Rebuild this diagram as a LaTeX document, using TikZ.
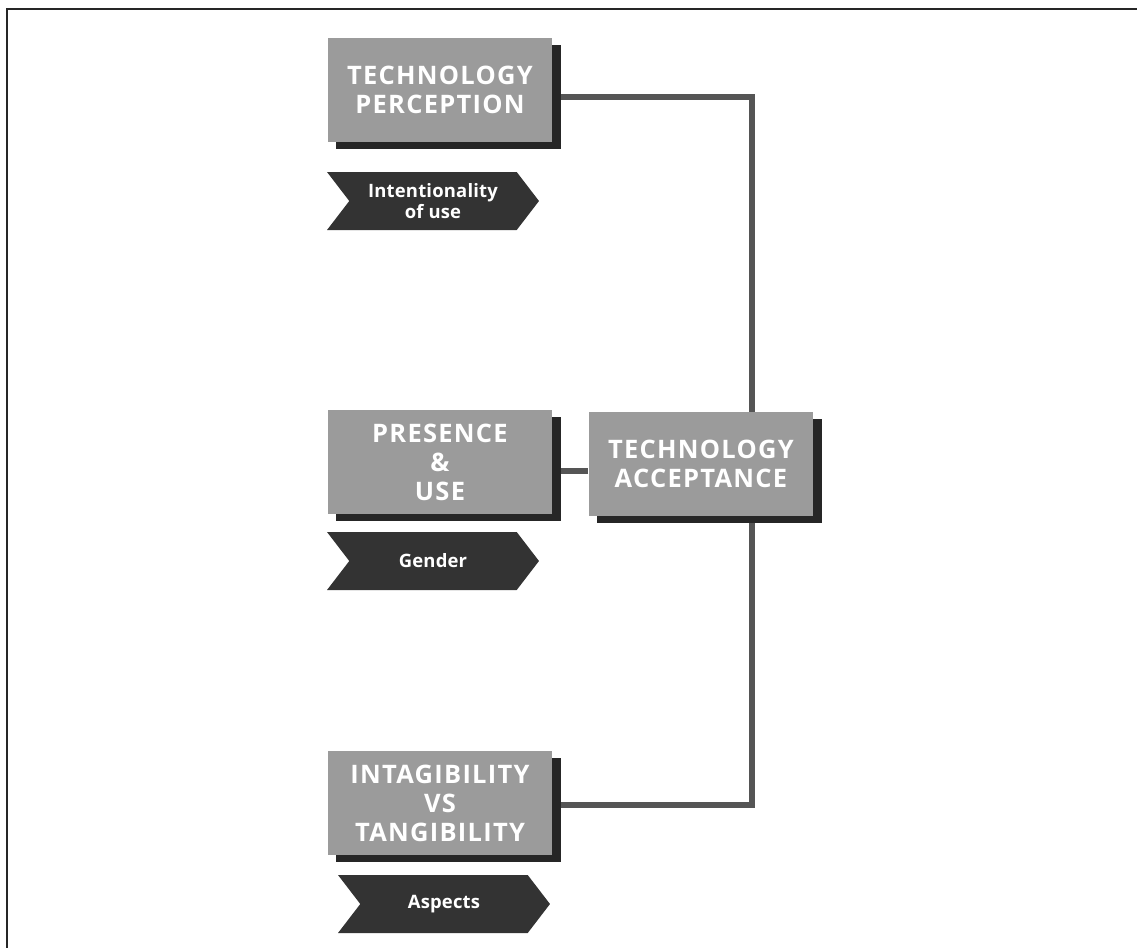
\documentclass[tikz,border=0pt]{standalone}
\usepackage{fontspec}
\setmainfont{Open Sans}
\usepackage{tikz}
\usetikzlibrary{calc}
\usetikzlibrary{shapes.symbols}
\usetikzlibrary{shadows}
\usetikzlibrary{backgrounds}
\definecolor{boxgray}{HTML}{9B9B9B}
\definecolor{shadowgray}{HTML}{262626}
\definecolor{chevgray}{HTML}{333333}
\definecolor{linkgray}{HTML}{555555}
\tikzset{
  bloc/.style={fill=boxgray, text=white, minimum width=4.5cm, minimum height=2.08cm,
    inner sep=0pt, align=center,
    font=\bfseries\fontsize{14.5}{16.5}\selectfont\addfontfeatures{LetterSpace=5},
    drop shadow={shadow xshift=0.17cm, shadow yshift=-0.14cm, fill=shadowgray, opacity=1}},
  fleche/.style={shape=signal, signal from=west, signal to=east, signal pointer angle=105,
    fill=chevgray, text=white, minimum width=4.24cm, minimum height=1.16cm,
    inner sep=0pt, align=center,
    font=\bfseries\fontsize{10.5}{8.6}\selectfont\addfontfeatures{LetterSpace=1}},
  lien/.style={draw=linkgray, line width=0.12cm}
}
\begin{document}
\begin{tikzpicture}[x=0.02cm, y=-0.02cm]
                \useasboundingbox (0,0) rectangle (1137,948);
                % cadre
                \draw[line width=0.04cm, black!85] (1137,9) -- (7,9) -- (7,948);

                % bloc 1
                \node[bloc] (tp) at (440,90) {TECHNOLOGY\\PERCEPTION};
                \node[fleche] (c1) at (433,201) {Intentionality\\of use};

                % bloc 2
                \node[bloc] (pu) at (440,462) {PRESENCE\\\&\\USE};
                \node[fleche] (c2) at (433,561) {Gender};

                % bloc 3
                \node[bloc] (it) at (440,803) {INTAGIBILITY\\VS\\TANGIBILITY};
                \node[fleche] (c3) at (444,904) {Aspects};

                % acceptation
                \node[bloc] (ta) at (701,464) {TECHNOLOGY\\ACCEPTANCE};

                % liens
                \begin{scope}[on background layer]
                \draw[lien] ($(tp.east)+(0,7)$) -| ($(ta.north)+(51,0)$);
                \draw[lien] ($(it.east)+(0,2)$) -| ($(ta.south)+(51,0)$);
                \draw[lien] ($(pu.east)+(0,9)$) coordinate (m) -- (m -| ta.west);
                \end{scope}
            \end{tikzpicture}
\end{document}
